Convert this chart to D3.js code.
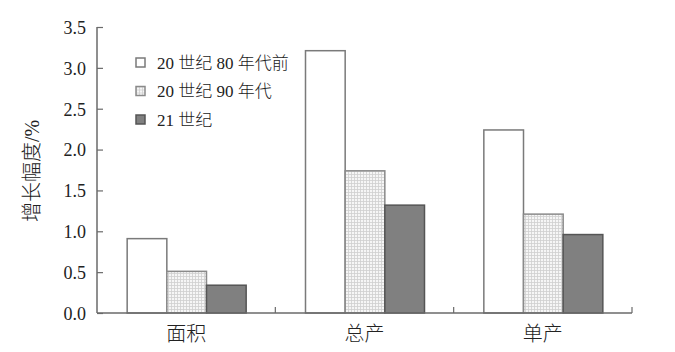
<!DOCTYPE html>
<html>
<head>
<meta charset="utf-8">
<script src="https://cdn.jsdelivr.net/npm/d3@7"></script>
<style>
  body { margin: 0; background: #fff; }
  svg { display: block; }
  text { font-family: "Liberation Serif", "Noto Sans CJK SC", serif; fill: #222; font-weight: 300; }
</style>
</head>
<body>
<div id="chart"></div>
<script>
var categories = ["面积", "总产", "单产"];
var seriesNames = ["20 世纪 80 年代前", "20 世纪 90 年代", "21 世纪"];
var v80s = [0.91, 3.21, 2.24];
var v90s = [0.51, 1.74, 1.21];
var v21c = [0.34, 1.32, 0.96];
var yTicks = [0, 0.5, 1, 1.5, 2, 2.5, 3, 3.5];

var w = 675, h = 352,
    plotLeft = 97, plotRight = 632,
    plotTop = 27, plotBottom = 313;

var series = [v80s, v90s, v21c];

var svg = d3.select("#chart").append("svg")
      .attr("width", w)
      .attr("height", h);

// dotted grid fill for the 90s bars
var defs = svg.append("defs");
var pat = defs.append("pattern")
      .attr("id", "dots")
      .attr("patternUnits", "userSpaceOnUse")
      .attr("width", 3)
      .attr("height", 3);
pat.append("rect").attr("width", 3).attr("height", 3).attr("fill", "#f6f6f6");
pat.append("path")
  .attr("d", "M0,0.5H3M0.5,0V3")
  .attr("stroke", "#cfcfcf")
  .attr("stroke-width", 0.8);

var x = d3.scaleBand()
      .domain(categories)
      .range([plotLeft, plotRight]);

var x1 = d3.scaleBand()
      .domain(d3.range(series.length))
      .range([0, 119]);

var y = d3.scaleLinear()
      .domain([0, 3.5])
      .range([plotBottom, plotTop]);

var fills = ["#ffffff", "url(#dots)", "#808080"];
var strokes = ["#7a7a7a", "#8a8a8a", "#555555"];

// bars
series.forEach((vals, s) => {
  svg.append("g")
    .selectAll("rect")
    .data(vals)
    .enter().append("rect")
    .attr("x", (d, i) => x(categories[i]) + (x.bandwidth() - 119) / 2 + x1(s) + 0.5)
    .attr("y", (d) => y(d))
    .attr("width", x1.bandwidth())
    .attr("height", (d) => plotBottom - y(d))
    .attr("fill", fills[s])
    .attr("stroke", strokes[s])
    .attr("stroke-width", 1.5);
});

// y axis, ticks pointing inward
var yAxis = svg.append("g")
      .attr("transform", "translate(" + plotLeft + ",0)")
      .call(d3.axisRight(y).tickValues(yTicks).tickSize(6).tickFormat(d3.format(".1f")));
yAxis.select(".domain").attr("stroke", "#6a6a6a").attr("stroke-width", 1.5).attr("d", "M0," + plotTop + "V" + plotBottom);
yAxis.selectAll(".tick line").attr("stroke", "#6a6a6a").attr("stroke-width", 1.2);
yAxis.selectAll(".tick text")
  .attr("x", -11)
  .attr("text-anchor", "end")
  .attr("dy", "0.35em")
  .style("font-size", "18px")
  .style("font-family", "Liberation Serif, serif")
  .attr("fill", "#222");

// x axis: boundary ticks between categories
var xAxis = svg.append("g");
xAxis.append("line")
  .attr("x1", plotLeft).attr("x2", plotRight)
  .attr("y1", plotBottom).attr("y2", plotBottom)
  .attr("stroke", "#6a6a6a").attr("stroke-width", 1.5);
xAxis.selectAll("line.bt")
  .data(categories)
  .enter().append("line")
  .attr("class", "bt")
  .attr("x1", (d) => x(d) + x.bandwidth())
  .attr("x2", (d) => x(d) + x.bandwidth())
  .attr("y1", plotBottom)
  .attr("y2", plotBottom - 6)
  .attr("stroke", "#6a6a6a").attr("stroke-width", 1.2);
xAxis.selectAll("text")
  .data(categories)
  .enter().append("text")
  .attr("x", (d) => x(d) + x.bandwidth() / 2)
  .attr("y", 341)
  .attr("text-anchor", "middle")
  .style("font-size", "20px")
  .text((d) => d);

// y title
svg.append("text")
  .attr("transform", "translate(39,171) rotate(-90)")
  .attr("text-anchor", "middle")
  .style("font-size", "20px")
  .text("增长幅度/%");

// legend
var legend = svg.append("g")
      .selectAll("g")
      .data(seriesNames)
      .enter().append("g")
      .attr("transform", (d, i) => "translate(136," + (58 + i * 28.5) + ")");
legend.append("rect")
  .attr("width", 9).attr("height", 9)
  .attr("fill", (d, i) => fills[i])
  .attr("stroke", (d, i) => strokes[i])
  .attr("stroke-width", 1.5);
legend.append("text")
  .attr("x", 21)
  .attr("y", 10.5)
  .style("font-size", "17px")
  .text((d) => d);
</script>
</body>
</html>
